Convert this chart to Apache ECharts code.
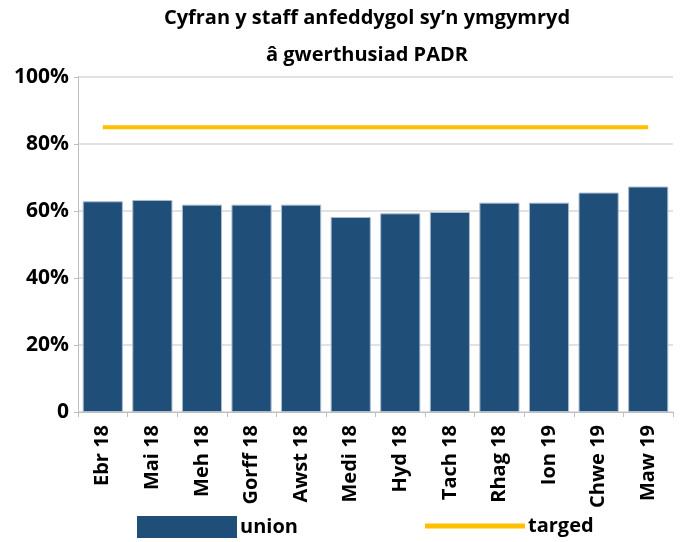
<!DOCTYPE html>
<html>
<head>
<meta charset="utf-8">
<script src="https://cdn.jsdelivr.net/npm/echarts@6/dist/echarts.min.js"></script>
<style>
  body { margin: 0; background: #fff; }
  #main { width: 680px; height: 542px; }
</style>
</head>
<body>
<div id="main"></div>
<script>
  const months = ['Ebr 18', 'Mai 18', 'Meh 18', 'Gorff 18', 'Awst 18', 'Medi 18',
    'Hyd 18', 'Tach 18', 'Rhag 18', 'Ion 19', 'Chwe 19', 'Maw 19']
  const unionValues = [62.9, 63.3, 61.9, 61.9, 61.9, 58.2, 59.3, 59.7, 62.5, 62.5, 65.5, 67.3]
  const targetValues = [85, 85, 85, 85, 85, 85, 85, 85, 85, 85, 85, 85]
  const yTicks = [0, 20, 40, 60, 80, 100]

  const font = 'Open Sans'
  const myechart = echarts.init(document.getElementById('main'))
  const legendText = { fontFamily: font, fontSize: 20, fontWeight: 'bold', color: '#000', padding: [0, 0, 0, -2] }
  const option = {
    animation: false,
    title: {
      text: 'Cyfran y staff anfeddygol sy’n ymgymryd\nâ gwerthusiad PADR',
      left: 367,
      top: 0,
      padding: 0,
      textAlign: 'center',
      textStyle: {
        fontFamily: font,
        fontSize: 20,
        fontWeight: 'bold',
        color: '#000',
        lineHeight: 37
      }
    },
    grid: { left: 78, right: 7, top: 77, bottom: 130 },
    legend: [
      {
        data: [{ name: 'union', icon: 'rect' }],
        left: 137,
        top: 516,
        padding: 0,
        itemWidth: 100,
        itemHeight: 22,
        itemGap: 3,
        itemStyle: { borderWidth: 0 },
        textStyle: legendText
      },
      {
        data: [{ name: 'targed', icon: 'rect' }],
        left: 425,
        top: 516,
        padding: 0,
        itemWidth: 100,
        itemHeight: 5,
        itemStyle: { borderWidth: 0 },
        textStyle: legendText
      }
    ],
    xAxis: {
      type: 'category',
      data: months,
      boundaryGap: true,
      axisLine: { lineStyle: { color: '#bfbfbf' } },
      axisTick: { show: true, alignWithLabel: false, length: 5, lineStyle: { color: '#bfbfbf' } },
      axisLabel: {
        rotate: 90,
        interval: 0,
        margin: 13,
        fontFamily: font,
        fontSize: 20,
        fontWeight: 'bold',
        color: '#000'
      }
    },
    yAxis: {
      type: 'value',
      min: yTicks[0],
      max: yTicks[yTicks.length - 1],
      interval: 20,
      axisLine: { show: true, lineStyle: { color: '#bfbfbf' } },
      axisTick: { show: true, length: 4, lineStyle: { color: '#bfbfbf' } },
      splitLine: { lineStyle: { color: '#d9d9d9', width: 1.5 } },
      axisLabel: {
        margin: 9,
        fontFamily: font,
        fontSize: 21,
        fontWeight: 'bold',
        color: '#000',
        formatter: v => (v === 0 ? '0' : v + '%')
      }
    },
    series: [
      {
        name: 'union',
        type: 'bar',
        data: unionValues,
        barCategoryGap: '19%',
        itemStyle: { color: '#1F4E79', borderColor: '#a9bcd0', borderWidth: 1 }
      },
      {
        name: 'targed',
        type: 'line',
        data: targetValues,
        symbol: 'none',
        itemStyle: { color: '#FFC000' },
        lineStyle: { color: '#FFC000', width: 4 }
      }
    ]
  }
  myechart.setOption(option)
</script>
</body>
</html>
